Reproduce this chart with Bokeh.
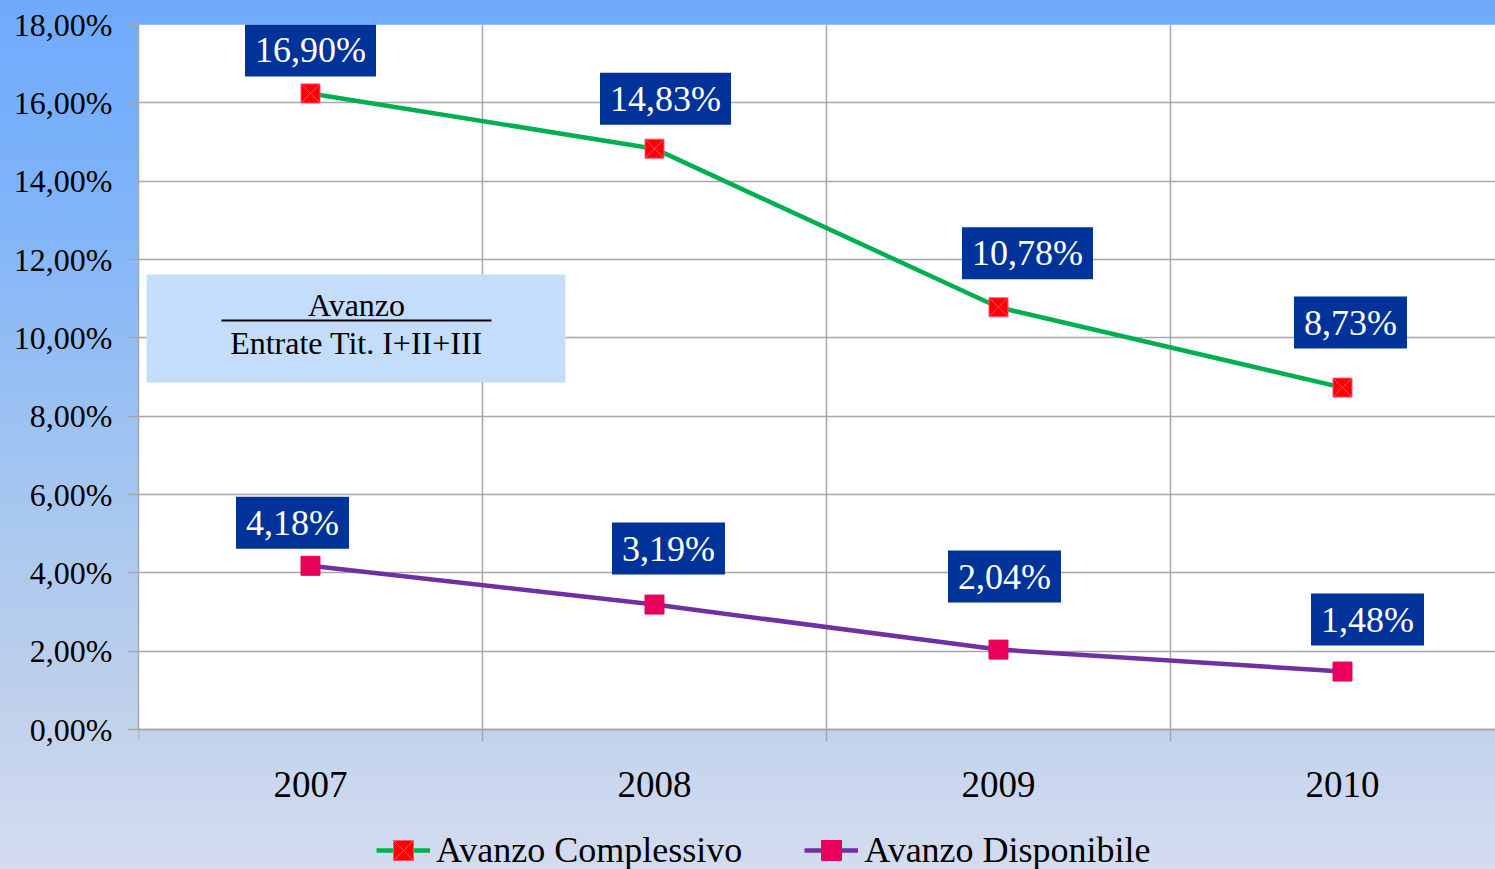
from bokeh.plotting import figure
from bokeh.models import (Range1d, FixedTicker, Label, BoxAnnotation, Legend, LegendItem)
from bokeh.embed import file_html
from bokeh.resources import INLINE

# ---- data ----
years = ["2007", "2008", "2009", "2010"]
complessivo = [16.24, 14.83, 10.78, 8.73]
complessivo_labels = ["16,90%", "14,83%", "10,78%", "8,73%"]
disponibile = [4.18, 3.19, 2.04, 1.48]
disponibile_labels = ["4,18%", "3,19%", "2,04%", "1,48%"]
y_ticks = [0, 2, 4, 6, 8, 10, 12, 14, 16, 18]
y_tick_labels = ["0,00%", "2,00%", "4,00%", "6,00%", "8,00%", "10,00%",
                 "12,00%", "14,00%", "16,00%", "18,00%"]
series_names = ["Avanzo Complessivo", "Avanzo Disponibile"]
box_title = "Avanzo"
box_subtitle = "Entrate Tit. I+II+III"

# ---- layout / style ----
FONT = "Liberation Serif"
GRID = "#a6a6a6"
x = list(range(len(years)))
boundaries = [-0.5, 0.5, 1.5, 2.5]
Y_MAX = 18
Y_MIN = Y_MAX - 845 / 39.1667   # extra room below the axis for labels/legend
# label offsets in screen px (dx, dy up)
off_c = [(0, 43), (11, 50), (29, 54), (8, 65)]
off_d = [(-18, 43), (14, 56), (6, 73), (25, 52)]

p = figure(width=1495, height=869, output_backend="svg", toolbar_location=None,
           x_range=Range1d(-0.5, 3.4448), y_range=Range1d(Y_MIN, Y_MAX),
           min_border_left=138, min_border_right=0, min_border_top=24,
           min_border_bottom=0, outline_line_color=None,
           border_fill_color=None, background_fill_color=None)
p.styles = {"background": "linear-gradient(to bottom, #6faafb 0%, #7db3f9 22%, "
                          "#9ec3f2 50%, #bccfeb 78%, #d4dcef 100%)"}

# white plotting area
p.add_layout(BoxAnnotation(bottom=0, top=Y_MAX, fill_color="white", fill_alpha=1,
                           line_color=None, level="image"))

# axes
xa = p.xaxis[0]
xa.fixed_location = 0
xa.ticker = FixedTicker(ticks=x, minor_ticks=boundaries)
xa.major_label_overrides = {i: y for i, y in zip(x, years)}
xa.major_tick_out = 0
xa.major_tick_in = 0
xa.minor_tick_out = 12
xa.minor_tick_in = 0
xa.minor_tick_line_color = GRID
xa.minor_tick_line_width = 1.5
xa.axis_line_color = GRID
xa.axis_line_width = 1.5
xa.major_label_standoff = 30
xa.major_label_text_font = FONT
xa.major_label_text_font_size = "37px"
xa.major_label_text_color = "black"

ya = p.yaxis[0]
ya.bounds = (0, Y_MAX)
ya.ticker = FixedTicker(ticks=y_ticks, minor_ticks=[])
ya.major_label_overrides = {t: l for t, l in zip(y_ticks, y_tick_labels)}
ya.major_tick_out = 10
ya.major_tick_in = 0
ya.major_tick_line_color = GRID
ya.major_tick_line_width = 1.5
ya.axis_line_color = GRID
ya.axis_line_width = 1.5
ya.major_label_standoff = 16
ya.major_label_text_font = FONT
ya.major_label_text_font_size = "32px"
ya.major_label_text_color = "black"

p.ygrid.ticker = FixedTicker(ticks=y_ticks)
p.ygrid.grid_line_color = GRID
p.ygrid.grid_line_width = 1.5
xgrid = p.xgrid[0]
if "cross_bounds" in xgrid.properties():
    xgrid.ticker = FixedTicker(ticks=boundaries)
    xgrid.cross_bounds = (0, Y_MAX)
    xgrid.grid_line_color = GRID
    xgrid.grid_line_width = 1.5
else:
    xgrid.visible = False
    p.segment(x0=boundaries, y0=[0] * len(boundaries), x1=boundaries,
              y1=[Y_MAX] * len(boundaries), line_color=GRID, line_width=1.5,
              level="underlay")

# series
l1 = p.line(x, complessivo, line_color="#00b050", line_width=4.5)
m1 = p.scatter(x, complessivo, marker="square_x", size=19,
               fill_color="#ff0000", line_color="#ff4f7a", line_width=1)
l2 = p.line(x, disponibile, line_color="#7030a0", line_width=4.5)
m2 = p.scatter(x, disponibile, marker="square", size=19,
               fill_color="#e8005a", line_color="#e8005a", line_width=1)

# data labels
for vals, labs, offs in ((complessivo, complessivo_labels, off_c),
                         (disponibile, disponibile_labels, off_d)):
    for xi, v, lab, (dx, dy) in zip(x, vals, labs, offs):
        p.add_layout(Label(x=xi, y=v, x_offset=dx, y_offset=dy, text=lab,
                           text_font=FONT, text_font_size="36px",
                           text_color="white", text_align="center",
                           text_baseline="middle",
                           background_fill_color="#003399",
                           padding={"left": 10, "right": 10, "top": 6, "bottom": 6}))

# formula box
p.add_layout(BoxAnnotation(left=-0.4767, right=0.7413, top=11.617, bottom=8.86,
                           fill_color="#c3ddfb", fill_alpha=1, line_color=None))
p.add_layout(BoxAnnotation(left=-0.2587, right=0.5262, top=10.468, bottom=10.417,
                           fill_color="black", fill_alpha=1, line_color=None))
p.add_layout(Label(x=0.1337, y=10.85, text=box_title, text_font=FONT,
                   text_font_size="32px", text_color="black",
                   text_align="center", text_baseline="middle"))
p.add_layout(Label(x=0.1337, y=9.868, text=box_subtitle, text_font=FONT,
                   text_font_size="32px", text_color="black",
                   text_align="center", text_baseline="middle"))

# legend
legend = Legend(items=[LegendItem(label=series_names[0], renderers=[l1, m1]),
                       LegendItem(label=series_names[1], renderers=[l2, m2])],
                location=(238, -6), orientation="horizontal",
                padding=0, margin=0, spacing=62, border_line_color=None,
                background_fill_alpha=0, glyph_width=54, glyph_height=50,
                label_standoff=6, label_text_font=FONT,
                label_text_font_size="36px", label_text_color="black")
p.add_layout(legend)

open("out.html", "w").write(file_html(p, INLINE))
